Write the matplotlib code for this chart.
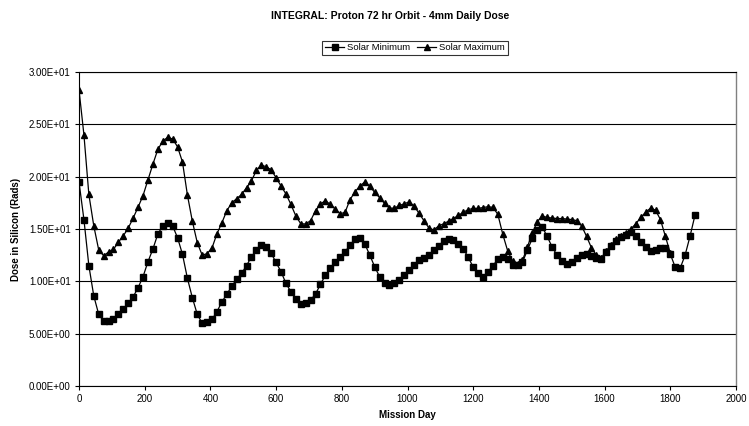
import matplotlib
matplotlib.use("Agg")
import matplotlib.pyplot as plt
from matplotlib.ticker import FuncFormatter, MultipleLocator

plt.rcParams['font.family'] = ['Liberation Sans', 'DejaVu Sans']

title = "INTEGRAL: Proton 72 hr Orbit - 4mm Daily Dose"
xlabel = "Mission Day"
ylabel = "Dose in Silicon (Rads)"
series_names = ["Solar Minimum", "Solar Maximum"]

day_step = 15

solar_min = [
    19.5, 15.9, 11.5, 8.6, 6.85, 6.2, 6.25, 6.37, 6.85, 7.36,
    7.9, 8.53, 9.4, 10.45, 11.88, 13.09, 14.52, 15.29, 15.54, 15.29,
    14.17, 12.58, 10.29, 8.44, 6.85, 5.99, 6.14, 6.37, 7.1, 8.05,
    8.76, 9.55, 10.19, 10.77, 11.5, 12.36, 13.0, 13.47, 13.3, 12.68,
    11.8, 10.92, 9.81, 9.0, 8.28, 7.8, 7.9, 8.2, 8.79, 9.71,
    10.6, 11.24, 11.8, 12.36, 12.83, 13.47, 14.01, 14.1, 13.57, 12.52,
    11.4, 10.45, 9.81, 9.65, 9.81, 10.13, 10.6, 11.08, 11.6, 12.0,
    12.2, 12.5, 13.0, 13.4, 13.85, 14.0, 13.95, 13.6, 13.1, 12.3,
    11.35, 10.8, 10.45, 10.9, 11.5, 12.1, 12.35, 12.1, 11.6, 11.55,
    11.8, 13.0, 14.1, 14.9, 15.2, 14.3, 13.3, 12.5, 11.9, 11.7,
    11.85, 12.2, 12.5, 12.6, 12.4, 12.2, 12.1, 12.8, 13.4, 13.9,
    14.2, 14.45, 14.75, 14.3, 13.8, 13.3, 12.9, 13.0, 13.2, 13.15,
    12.6, 11.35, 11.25, 12.5, 14.3, 16.3,
]

solar_max = [
    28.3, 24.0, 18.3, 15.3, 13.0, 12.45, 12.8, 13.05, 13.75, 14.35,
    15.1, 16.05, 17.1, 18.2, 19.7, 21.2, 22.6, 23.4, 23.76, 23.6,
    22.85, 21.4, 18.25, 15.75, 13.7, 12.5, 12.65, 13.2, 14.55, 15.6,
    16.75, 17.5, 17.9, 18.3, 18.95, 19.6, 20.6, 21.1, 20.95, 20.65,
    19.9, 19.1, 18.35, 17.35, 16.25, 15.5, 15.48, 15.8, 16.75, 17.4,
    17.7, 17.35, 16.9, 16.45, 16.6, 17.8, 18.55, 19.1, 19.5, 19.1,
    18.5, 18.0, 17.45, 17.0, 16.98, 17.25, 17.4, 17.6, 17.2, 16.5,
    15.8, 15.1, 14.9, 15.3, 15.5, 15.75, 16.0, 16.3, 16.6, 16.85,
    16.97, 16.97, 17.05, 17.13, 17.07, 16.4, 14.5, 12.9, 11.9, 11.7,
    12.0, 13.3, 14.6, 15.7, 16.25, 16.1, 16.05, 16.0, 16.0, 15.95,
    15.9, 15.8, 15.3, 14.3, 13.2, 12.5, 12.25, 12.9, 13.5, 14.0,
    14.3, 14.6, 15.0, 15.5, 16.1, 16.6, 17.0, 16.8, 15.9, 14.3,
    12.7,
]

days_min = [i * day_step for i in range(len(solar_min))]
days_max = [i * day_step for i in range(len(solar_max))]

W, H = 749, 426
fig = plt.figure(figsize=(W / 100, H / 100), dpi=100)
ax = fig.add_axes([79 / W, 1 - 386 / H, (736 - 79) / W, (386 - 72) / H])

ax.plot(days_min, solar_min, color='black', lw=0.9, marker='s', markersize=3.8,
        label=series_names[0], zorder=3)
ax.plot(days_max, solar_max, color='black', lw=0.9, marker='^', markersize=3.9,
        label=series_names[1], zorder=3)

ax.set_xlim(0, 2000)
ax.set_ylim(0, 30)
ax.xaxis.set_major_locator(MultipleLocator(200))
ax.yaxis.set_major_locator(MultipleLocator(5))
ax.yaxis.set_major_formatter(FuncFormatter(lambda v, p: "{:.2E}".format(v)))
ax.yaxis.grid(True, color='black', lw=0.8)
ax.set_axisbelow(True)
ax.tick_params(direction='out', length=3, width=0.8, labelsize=7, pad=3)

for s in ['left', 'bottom', 'top']:
    ax.spines[s].set_color('black')
    ax.spines[s].set_linewidth(0.8)
ax.spines['right'].set_color('#808080')
ax.spines['right'].set_linewidth(1.0)

ax.set_xlabel(xlabel, fontsize=7, fontweight='bold', labelpad=4)
ax.set_ylabel(ylabel, fontsize=7, fontweight='bold', labelpad=6)

fig.text(390 / W, 1 - 16 / H, title, ha='center', va='center',
         fontsize=7.5, fontweight='bold')

leg = fig.legend(loc='center', bbox_to_anchor=(415 / W, 1 - 48 / H), ncol=2,
                 frameon=True, fancybox=False, edgecolor='black', fontsize=6.8,
                 handlelength=2.0, columnspacing=0.8, handletextpad=0.3,
                 borderpad=0.3, borderaxespad=0)
leg.get_frame().set_linewidth(0.8)

fig.savefig("out.png", dpi=100)
